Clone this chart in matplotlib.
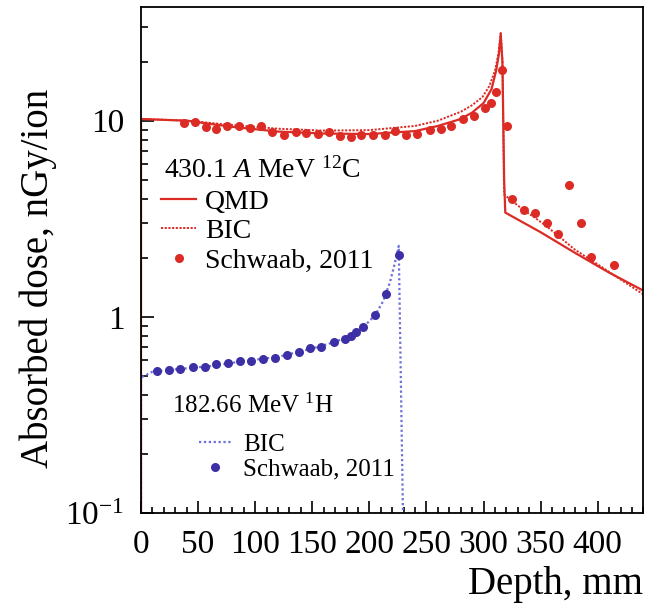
import numpy as np
import matplotlib
matplotlib.use("Agg")
import matplotlib.pyplot as plt
from matplotlib.lines import Line2D
from matplotlib.ticker import FixedLocator, FixedFormatter, MultipleLocator, LogLocator, NullFormatter

plt.rcParams["font.family"] = ["Liberation Serif", "DejaVu Serif"]
plt.rcParams["mathtext.fontset"] = "custom"
plt.rcParams["mathtext.rm"] = "Liberation Serif"
plt.rcParams["mathtext.it"] = "Liberation Serif:italic"

RED = "#dc2a24"
BLUE_DOT = "#3d2fa5"
BLUE_LINE = "#6b6fd8"

# 12C, 430.1 A MeV -- QMD (solid)
c_qmd_x = [0, 0, 40, 80, 120, 160, 200, 240, 260, 280, 290, 300, 307, 311, 313.5, 315, 316.5, 318, 319,
           350, 380, 410, 440]
c_qmd_y = [0.05, 10.2, 10.0, 9.3, 8.8, 8.6, 8.55, 8.85, 9.4, 10.2, 11.0, 12.3, 14.5, 18, 22, 27.5, 20, 5, 3.4,
           2.70, 2.12, 1.68, 1.36]

# 12C -- BIC (dotted)
c_bic_x = [0, 0, 40, 80, 120, 160, 200, 240, 260, 280, 290, 299, 305, 310, 313, 315, 316.5, 318,
           325, 335, 345, 355, 365, 380, 400, 420, 440]
c_bic_y = [0.05, 10.2, 10.0, 9.5, 9.1, 8.9, 8.95, 9.4, 10.0, 11.1, 12.0, 13.2, 15, 18, 22, 28, 20, 4.2,
           3.9, 3.5, 3.2, 2.9, 2.6, 2.2, 1.85, 1.55, 1.30]

# 12C -- Schwaab, 2011
c_exp_x = [37.7, 47.0, 56.6, 66.0, 75.6, 85.8, 95.2, 104.8, 115.0, 125.2, 135.5, 144.8, 155.0, 164.6,
           174.0, 183.6, 193.0, 203.0, 213.4, 222.0, 232.3, 242.0, 252.8, 262.4, 271.7, 282.0, 291.6,
           301.0, 306.8, 311.2, 316.4, 320.8, 324.9, 335.4, 344.7, 355.8, 365.2, 374.8, 385.0, 394.4, 414.2]
c_exp_y = [9.77, 9.85, 9.28, 9.02, 9.35, 9.39, 9.17, 9.35, 8.75, 8.41, 8.75, 8.68, 8.58, 8.75,
           8.35, 8.25, 8.41, 8.41, 8.41, 8.82, 8.41, 8.58, 8.99, 9.10, 9.35, 10.15, 10.52,
           11.62, 12.37, 14.04, 18.1, 9.35, 3.98, 3.50, 3.40, 3.02, 2.65, 4.70, 3.02, 2.02, 1.83]

# 1H, 182.66 MeV -- BIC (dotted)
p_bic_x = [0, 0, 10, 30, 60, 90, 120, 150, 170, 185, 195, 205, 212, 218, 222, 225.7, 229.4, 231, 253]
p_bic_y = [0.05, 0.49, 0.525, 0.54, 0.56, 0.595, 0.625, 0.69, 0.745, 0.81, 0.89, 1.02, 1.2, 1.5, 1.85, 2.3,
           0.1, 0.1, 0.1]

# 1H -- Schwaab, 2011
p_exp_x = [14.3, 24.2, 34.5, 45.5, 55.8, 66.0, 76.2, 87.0, 96.6, 106.8, 117.0, 127.9, 138.0, 147.7,
           157.9, 168.7, 178.4, 183.6, 188.5, 194.4, 204.6, 214.3, 225.7]
p_exp_y = [0.531, 0.535, 0.545, 0.552, 0.552, 0.572, 0.583, 0.597, 0.597, 0.607, 0.614, 0.638, 0.664,
           0.691, 0.704, 0.742, 0.771, 0.802, 0.841, 0.891, 1.016, 1.30, 2.06]

x_ticks = [0, 50, 100, 150, 200, 250, 300, 350, 400]
y_ticks = [0.1, 1, 10]
y_ticklabels = ["$10^{-1}$", "1", "10"]

fig = plt.figure(figsize=(6.45, 6.09), dpi=100)
ax = fig.add_axes([0.2186, 0.1576, 0.779, 0.831])

ax.plot(c_qmd_x, c_qmd_y, color=RED, lw=1.6, ls="-")
ax.plot(c_bic_x, c_bic_y, color=RED, lw=1.4, ls=(0, (1.1, 0.8)))
ax.plot(c_exp_x, c_exp_y, ls="none", marker="o", ms=6.5, color=RED, mec="none")
ax.plot(p_bic_x, p_bic_y, color=BLUE_LINE, lw=1.6, ls=(0, (1.0, 1.2)))
ax.plot(p_exp_x, p_exp_y, ls="none", marker="o", ms=6.5, color=BLUE_DOT, mec="none")

ax.set_yscale("log")
ax.set_xlim(0, 440)
ax.set_ylim(0.1, 38)

ax.xaxis.set_major_locator(FixedLocator(x_ticks))
ax.xaxis.set_minor_locator(MultipleLocator(10))
ax.yaxis.set_major_locator(FixedLocator(y_ticks))
ax.yaxis.set_major_formatter(FixedFormatter(y_ticklabels))
ax.yaxis.set_minor_locator(LogLocator(base=10, subs=np.arange(2, 10)))
ax.yaxis.set_minor_formatter(NullFormatter())

ax.tick_params(axis="both", which="both", direction="in", top=False, right=False, width=1.2)
ax.tick_params(axis="x", which="major", length=9, labelsize=24, pad=12)
ax.tick_params(axis="x", which="minor", length=4.5)
ax.tick_params(axis="y", which="major", length=9, labelsize=24, pad=12)
ax.tick_params(axis="y", which="minor", length=5)
for s in ax.spines.values():
    s.set_linewidth(1.3)

ax.set_xlabel("Depth, mm", fontsize=28, loc="right", labelpad=4)
ax.set_ylabel("Absorbed dose, nGy/ion", fontsize=28)
ax.yaxis.set_label_coords(-0.167, 0.464)

# carbon legend
ax.text(0.046, 0.678, "430.1 $A$ MeV $^{12}$C", transform=ax.transAxes, fontsize=20, va="center", ha="left")
c_handles = [
    Line2D([], [], color=RED, lw=1.6, ls="-"),
    Line2D([], [], color=RED, lw=1.4, ls=(0, (1.1, 0.8))),
    Line2D([], [], color=RED, ls="none", marker="o", ms=6.5, mec="none"),
]
leg1 = ax.legend(c_handles, ["QMD", "BIC", "Schwaab, 2011"], loc="upper left",
                 bbox_to_anchor=(0.04, 0.640), frameon=False, fontsize=20,
                 handlelength=1.26, handletextpad=0.32, labelspacing=0.15,
                 borderpad=0, borderaxespad=0)
ax.add_artist(leg1)

# proton legend
ax.text(0.062, 0.211, "182.66 MeV $^{1}$H", transform=ax.transAxes, fontsize=18, va="center", ha="left")
p_handles = [
    Line2D([], [], color=BLUE_LINE, lw=1.6, ls=(0, (1.0, 1.2))),
    Line2D([], [], color=BLUE_DOT, ls="none", marker="o", ms=6.5, mec="none"),
]
ax.legend(p_handles, ["BIC", "Schwaab, 2011"], loc="upper left",
          bbox_to_anchor=(0.115, 0.158), frameon=False, fontsize=18,
          handlelength=1.28, handletextpad=0.5, labelspacing=0.1,
          borderpad=0, borderaxespad=0)

fig.savefig("out.png", dpi=100)
